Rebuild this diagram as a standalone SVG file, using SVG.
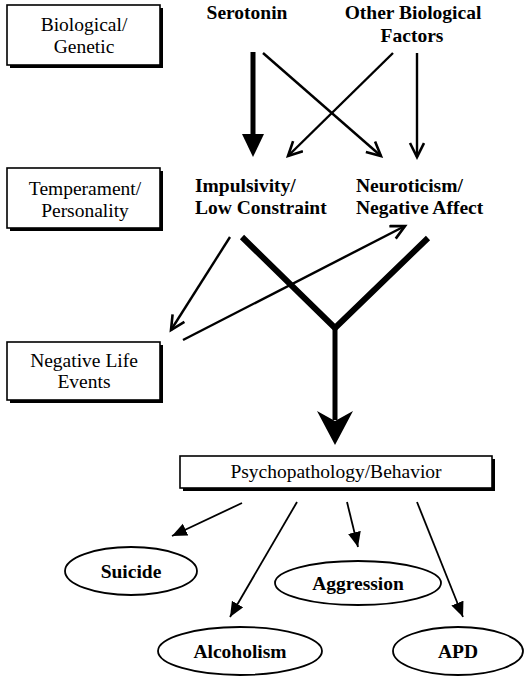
<svg xmlns="http://www.w3.org/2000/svg" width="527" height="677" viewBox="0 0 527 677">
  <style>
    .lbl { font-family: "Liberation Serif", "DejaVu Serif", "Times New Roman", Times, serif; font-size: 19.5px; fill: #000; text-anchor: middle; }
    .bold { font-family: "Liberation Serif", "DejaVu Serif", "Times New Roman", Times, serif; font-size: 19.5px; font-weight: bold; fill: #000; }
    .mid { text-anchor: middle; }
    .box { fill: #fff; stroke: #000; stroke-width: 1.6; }
    .shadow { fill: #000; }
    .oval { fill: #fff; stroke: #000; stroke-width: 1.8; }
    .thin { stroke: #000; stroke-width: 2.4; fill: none; }
    .fine { stroke: #000; stroke-width: 1.8; fill: none; }
    .heavy { stroke: #000; stroke-width: 6; fill: none; stroke-linejoin: miter; }
  </style>
  <defs>
    <marker id="open" markerUnits="userSpaceOnUse" markerWidth="18" markerHeight="18" refX="15" refY="8" orient="auto">
      <path d="M1,1 L15,8 L1,15" fill="none" stroke="#000" stroke-width="2.6"/>
    </marker>
    <marker id="solid" markerUnits="userSpaceOnUse" markerWidth="16" markerHeight="14" refX="15" refY="6.5" orient="auto">
      <path d="M0,0 L15,6.5 L0,13 z" fill="#000"/>
    </marker>
  </defs>

  <rect width="527" height="677" fill="#fff"/>

  <!-- level boxes on the left -->
  <g id="biological-genetic">
    <rect class="shadow" x="10" y="8" width="153" height="60"/>
    <rect class="box" x="7" y="5" width="153" height="60"/>
    <text class="lbl" x="84" y="31">Biological/</text>
    <text class="lbl" x="84" y="53">Genetic</text>
  </g>
  <g id="temperament-personality">
    <rect class="shadow" x="10" y="171" width="153" height="60"/>
    <rect class="box" x="7" y="168" width="153" height="60"/>
    <text class="lbl" x="85" y="195">Temperament/</text>
    <text class="lbl" x="85" y="217">Personality</text>
  </g>
  <g id="negative-life-events">
    <rect class="shadow" x="10" y="345" width="153" height="58"/>
    <rect class="box" x="7" y="342" width="153" height="58"/>
    <text class="lbl" x="84" y="367">Negative Life</text>
    <text class="lbl" x="84" y="388">Events</text>
  </g>

  <!-- factor labels -->
  <g id="serotonin">
    <text class="bold mid" x="247" y="19">Serotonin</text>
  </g>
  <g id="other-biological">
    <text class="bold mid" x="413" y="19">Other Biological</text>
    <text class="bold mid" x="412" y="42">Factors</text>
  </g>
  <g id="impulsivity">
    <text class="bold" x="195" y="192">Impulsivity/</text>
    <text class="bold" x="195" y="214">Low Constraint</text>
  </g>
  <g id="neuroticism">
    <text class="bold" x="356" y="192">Neuroticism/</text>
    <text class="bold" x="356" y="214">Negative Affect</text>
  </g>

  <g id="psychopathology">
    <rect class="shadow" x="183" y="459" width="312" height="32"/>
    <rect class="box" x="180" y="456" width="312" height="32"/>
    <text class="lbl" x="336" y="478">Psychopathology/Behavior</text>
  </g>

  <!-- outcomes -->
  <g id="suicide">
    <ellipse class="oval" cx="131" cy="571" rx="66" ry="24"/>
    <text class="bold mid" x="131" y="578">Suicide</text>
  </g>
  <g id="aggression">
    <ellipse class="oval" cx="358" cy="583" rx="83" ry="22"/>
    <text class="bold mid" x="358" y="590">Aggression</text>
  </g>
  <g id="alcoholism">
    <ellipse class="oval" cx="240" cy="651" rx="82" ry="24"/>
    <text class="bold mid" x="240" y="658">Alcoholism</text>
  </g>
  <g id="apd">
    <ellipse class="oval" cx="458" cy="651" rx="65" ry="24"/>
    <text class="bold mid" x="458" y="658">APD</text>
  </g>

  <!-- connectors -->
  <g id="connectors">
    <!-- serotonin to impulsivity: heavy arrow -->
    <line x1="253" y1="52" x2="253" y2="138" stroke="#000" stroke-width="5"/>
    <polygon points="242,134 264,134 253,157" fill="#000"/>
    <line class="thin" x1="263" y1="53" x2="381" y2="156" marker-end="url(#open)"/>
    <line class="thin" x1="393" y1="53" x2="288" y2="156" marker-end="url(#open)"/>
    <line class="thin" x1="417" y1="53" x2="417" y2="157" marker-end="url(#open)"/>

    <line class="thin" x1="230" y1="237" x2="171" y2="330" marker-end="url(#open)"/>
    <line class="thin" x1="183" y1="340" x2="405" y2="226" marker-end="url(#open)"/>

    <!-- traits converge on psychopathology -->
    <polyline class="heavy" points="242,237 335,328 428,238"/>
    <line x1="335" y1="326" x2="335" y2="420" stroke="#000" stroke-width="5"/>
    <polygon points="335,445 353,411 335,421 317,411" fill="#000"/>

    <line class="fine" x1="242" y1="503" x2="172" y2="536" marker-end="url(#solid)"/>
    <line class="fine" x1="297" y1="502" x2="230" y2="617" marker-end="url(#solid)"/>
    <line class="fine" x1="347" y1="502" x2="358" y2="547" marker-end="url(#solid)"/>
    <line class="fine" x1="417" y1="502" x2="463" y2="617" marker-end="url(#solid)"/>
  </g>
</svg>
